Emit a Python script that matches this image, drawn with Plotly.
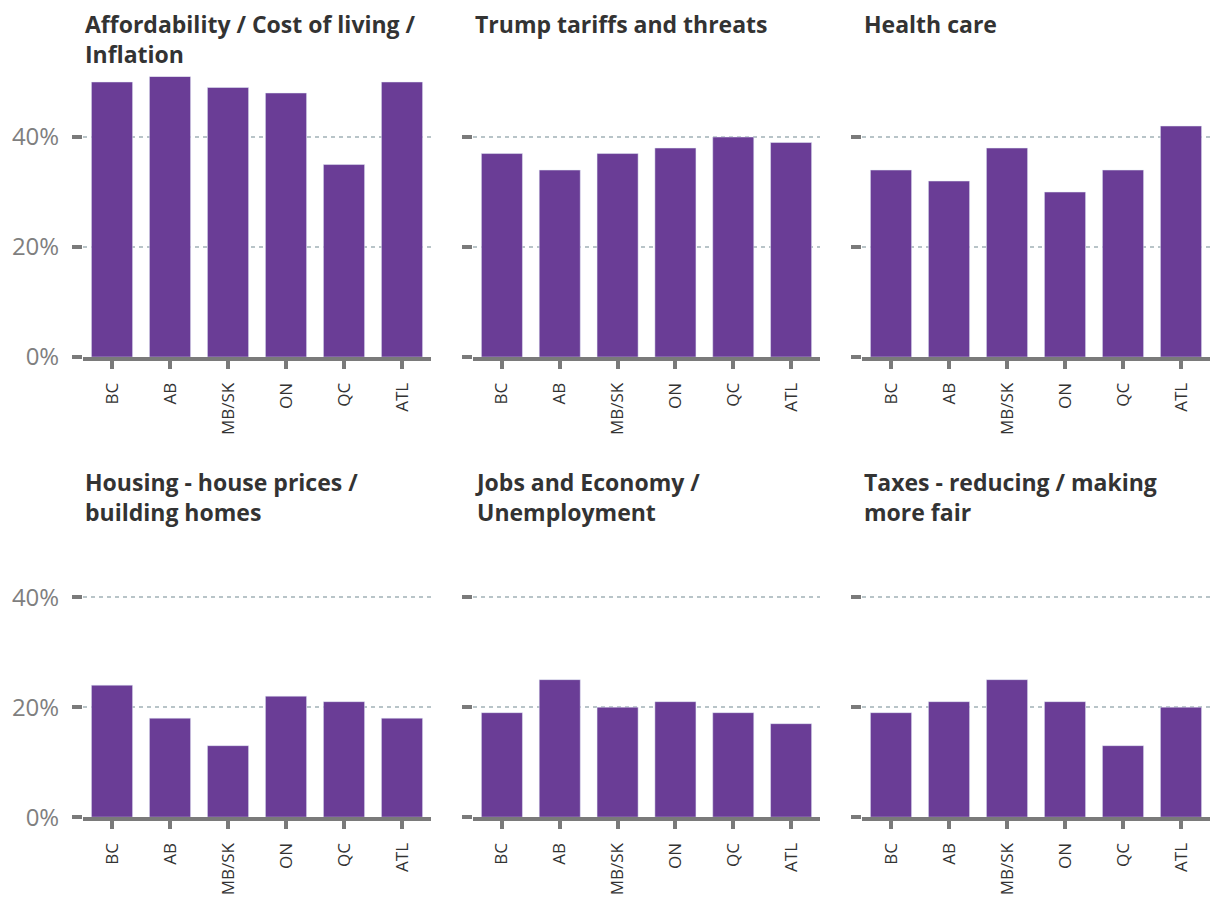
import plotly.graph_objects as go

regions = ["BC", "AB", "MB/SK", "ON", "QC", "ATL"]
titles = [
    "Affordability / Cost of living /<br>Inflation",
    "Trump tariffs and threats",
    "Health care",
    "Housing - house prices /<br>building homes",
    "Jobs and Economy /<br>Unemployment",
    "Taxes - reducing / making<br>more fair",
]
affordability = [50, 51, 49, 48, 35, 50]
tariffs = [37, 34, 37, 38, 40, 39]
health = [34, 32, 38, 30, 34, 42]
housing = [24, 18, 13, 22, 21, 18]
jobs = [19, 25, 20, 21, 19, 17]
taxes = [19, 21, 25, 21, 13, 20]
series = [affordability, tariffs, health, housing, jobs, taxes]
y_ticks = [0, 20, 40]
y_tick_text = ["0%", "20%", "40%"]

# page body has an 8px margin; size the figure so the page fits the window
OFF = 8
SY = 0.983
W, H = 1220 - 2 * OFF, 910 - 2 * OFF
BAR = "#6a3d96"
AX = "#7a7a7a"
GRID = "#b8c4c8"


def fy(v):
    return (v - OFF) / SY


col_px = [(83, 431), (473, 820), (862, 1210)]
row_px = [(76.5, 357), (536.5, 817)]
title_top = [-2, 464]

fig = go.Figure()
layout = dict(
    width=W, height=H,
    margin=dict(l=0, r=0, t=0, b=0),
    paper_bgcolor="white", plot_bgcolor="white",
    showlegend=False, bargap=0.29,
    font=dict(family="Open Sans", color="#333"),
)
annotations = []
for i, vals in enumerate(series):
    r, c = divmod(i, 3)
    n = i + 1
    xa = "xaxis" if n == 1 else f"xaxis{n}"
    ya = "yaxis" if n == 1 else f"yaxis{n}"
    xr = "x" if n == 1 else f"x{n}"
    yr = "y" if n == 1 else f"y{n}"
    fig.add_trace(go.Bar(x=regions, y=vals, marker_color=BAR, xaxis=xr, yaxis=yr,
                         hoverinfo="x+y"))
    x0, x1 = [v - OFF for v in col_px[c]]
    t0, t1 = [fy(v) for v in row_px[r]]
    layout[xa] = dict(
        domain=[x0 / W, x1 / W], anchor=yr,
        showline=True, linecolor=AX, linewidth=4,
        ticks="outside", ticklen=8, tickwidth=4, tickcolor=AX,
        tickangle=-90, tickfont=dict(size=17, color="#333"),
        ticklabelstandoff=7,
        showgrid=False, fixedrange=True,
    )
    layout[ya] = dict(
        domain=[(H - t1) / H, (H - t0) / H], anchor=xr,
        range=[0, 51], tickvals=y_ticks, ticktext=y_tick_text,
        ticks="outside", ticklen=10, tickwidth=4, tickcolor=AX,
        showticklabels=(c == 0), ticklabelstandoff=8,
        tickfont=dict(size=24, color="#7f7f7f"),
        showgrid=True, gridcolor=GRID, gridwidth=1.5, griddash="4px,4px",
        zeroline=False, showline=False, fixedrange=True,
    )
    annotations.append(dict(
        text="<b>" + titles[i].replace("<br>", "</b><br><b>") + "</b>",
        xref="paper", yref="paper",
        x=x0 / W, y=(H - title_top[r]) / H,
        xanchor="left", yanchor="top", align="left", showarrow=False,
        font=dict(size=23, color="#333", family="Open Sans"),
    ))
layout["annotations"] = annotations
fig.update_layout(**layout)
fig.write_html("out.html")
